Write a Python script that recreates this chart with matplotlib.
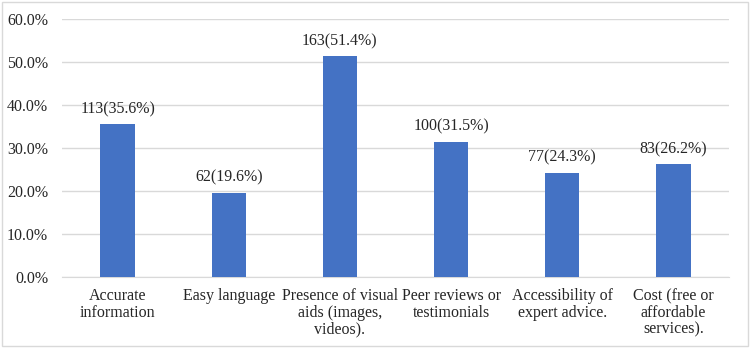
import matplotlib.pyplot as plt
from matplotlib.patches import Rectangle
from matplotlib.ticker import FuncFormatter

# Data
categories = ["Accurate\ninformation", "Easy language", "Presence of visual\naids (images,\nvideos).",
              "Peer reviews or\ntestimonials", "Accessibility of\nexpert advice.", "Cost (free or\naffordable\nservices)."]
counts = [113, 62, 163, 100, 77, 83]
percents = [35.6, 19.6, 51.4, 31.5, 24.3, 26.2]

plt.rcParams["font.family"] = ["Liberation Serif", "DejaVu Serif"]
fs = 11.5

fig = plt.figure(figsize=(7.5, 3.48), dpi=100)
ax = fig.add_axes([62 / 750, 1 - 277 / 348, (729 - 62) / 750, (277 - 19) / 348])

x = range(len(categories))
ax.bar(x, percents, width=0.31, color="#4472C4", zorder=3)

for i, (c, p) in enumerate(zip(counts, percents)):
    ax.text(i, p + 1.6, f"{c}({p}%)", ha="center", va="bottom", fontsize=fs, color="#262626")

ax.set_xlim(-0.5, len(categories) - 0.5)
ax.set_ylim(0, 60)
ax.set_yticks(range(0, 61, 10))
ax.yaxis.set_major_formatter(FuncFormatter(lambda v, pos: f"{v:.1f}%"))
ax.set_xticks(list(x))
ax.set_xticklabels(categories, fontsize=fs, color="#262626", linespacing=1.05)
ax.tick_params(axis="y", labelsize=fs, colors="#262626", length=0, pad=10)
ax.tick_params(axis="x", length=0, pad=8)
ax.grid(axis="y", color="#D9D9D9", linewidth=1, zorder=0)
for s in ["top", "right", "left"]:
    ax.spines[s].set_visible(False)
ax.spines["bottom"].set_color("#D9D9D9")

# outer border
fig.patches.append(Rectangle((0.003, 0.005), 0.994, 0.99, transform=fig.transFigure,
                             fill=False, edgecolor="#D9D9D9", linewidth=1))

plt.savefig("out.png", dpi=100)
